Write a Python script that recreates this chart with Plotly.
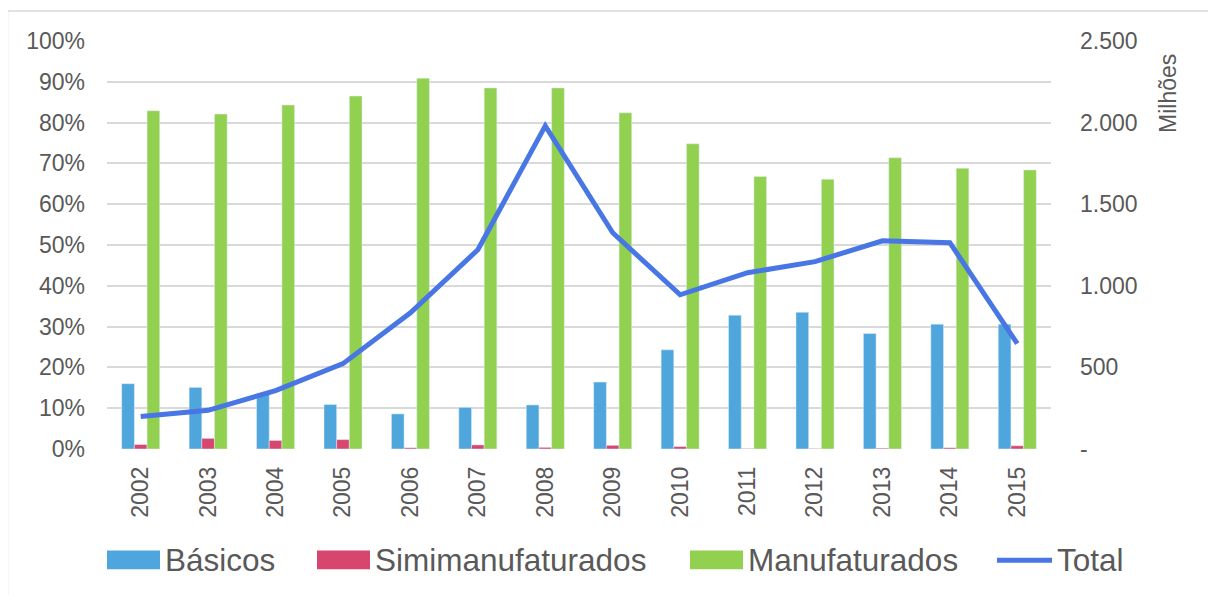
import plotly.graph_objects as go

years = ["2002", "2003", "2004", "2005", "2006", "2007", "2008",
         "2009", "2010", "2011", "2012", "2013", "2014", "2015"]
basicos = [16.0, 15.1, 13.5, 10.9, 8.6, 10.2, 10.8, 16.4, 24.3, 32.8, 33.5, 28.3, 30.6, 30.6]
simimanufaturados = [1.1, 2.6, 2.1, 2.3, 0.3, 1.0, 0.4, 0.9, 0.6, 0.1, 0.1, 0.2, 0.3, 0.8]
manufaturados = [82.9, 82.1, 84.3, 86.5, 90.9, 88.5, 88.5, 82.4, 74.8, 66.8, 66.1, 71.4, 68.8, 68.4]
total = [199, 237, 358, 523, 835, 1221, 1980, 1325, 945, 1080, 1148, 1276, 1264, 646]

right_ticks = [0, 500, 1000, 1500, 2000, 2500]
right_labels = ["-", "500", "1.000", "1.500", "2.000", "2.500"]

C_BAS = "#4EA6DC"
C_SIMI = "#D6466F"
C_MAN = "#92D050"
C_TOT = "#4876E4"
TXT = "#595959"
FONT = "Liberation Sans, Arial, sans-serif"

# the page puts the figure 8px in from the top-left corner
OFF = 8
W, H = 1216 - OFF, 595 - OFF
ML, MR, MT, MB = 107 - OFF, 165, 41 - OFF, 145.5
PW, PH = W - ML - MR, H - MT - MB


def px_x(x):
    return (x - OFF - ML) / PW


def px_y(y):
    return (H - MB - (y - OFF)) / PH


fig = go.Figure()
fig.add_bar(x=years, y=basicos, name="Básicos", marker_color=C_BAS)
fig.add_bar(x=years, y=simimanufaturados, name="Simimanufaturados", marker_color=C_SIMI)
fig.add_bar(x=years, y=manufaturados, name="Manufaturados", marker_color=C_MAN)
fig.add_scatter(x=years, y=total, name="Total", yaxis="y2", mode="lines",
                line=dict(color=C_TOT, width=5))

fig.update_layout(
    width=W, height=H,
    margin=dict(l=ML, r=MR, t=MT, b=MB, autoexpand=False),
    paper_bgcolor="white", plot_bgcolor="white",
    font=dict(family=FONT, color=TXT, size=23),
    barmode="group", bargap=0.436, bargroupgap=0,
    showlegend=False,
    xaxis=dict(tickangle=-90, tickfont=dict(size=23), showgrid=False,
               showline=False, ticks="", ticklabelstandoff=12),
    yaxis=dict(range=[0, 100], dtick=10, ticksuffix="%", showgrid=True,
               gridcolor="#D9D9D9", gridwidth=1.5, zeroline=False,
               tickfont=dict(size=23), ticklabelstandoff=21),
    yaxis2=dict(range=[0, 2500], overlaying="y", side="right",
                tickvals=right_ticks, ticktext=right_labels, showgrid=False,
                zeroline=False, tickfont=dict(size=23), ticklabelstandoff=28),
)

# title of the right axis, placed at the top like the original
fig.add_annotation(text="Milhões", xref="paper", yref="paper",
                   x=px_x(1168), y=px_y(94), textangle=-90, showarrow=False,
                   xanchor="center", yanchor="middle",
                   font=dict(size=23, color=TXT))

# custom legend
legend = [
    ("Básicos", C_BAS, 107, 160, 166, "bar"),
    ("Simimanufaturados", C_SIMI, 317, 370, 376, "bar"),
    ("Manufaturados", C_MAN, 690, 743, 749, "bar"),
    ("Total", C_TOT, 997, 1052, 1058, "line"),
]
for name, col, x0, x1, xt, kind in legend:
    if kind == "bar":
        fig.add_shape(type="rect", xref="paper", yref="paper",
                      x0=px_x(x0), x1=px_x(x1), y0=px_y(570), y1=px_y(551),
                      fillcolor=col, line_width=0)
    else:
        fig.add_shape(type="line", xref="paper", yref="paper",
                      x0=px_x(x0), x1=px_x(x1), y0=px_y(561), y1=px_y(561),
                      line=dict(color=col, width=5))
    fig.add_annotation(text=name, xref="paper", yref="paper", x=px_x(xt - 3),
                       y=px_y(561), xanchor="left", yanchor="middle",
                       showarrow=False, font=dict(size=31.5, color=TXT))

# chart border
fig.add_shape(type="rect", xref="paper", yref="paper",
              x0=px_x(7.5), x1=px_x(1225), y0=px_y(605), y1=px_y(11),
              line=dict(color="#D9D9D9", width=1.5), fillcolor="rgba(0,0,0,0)")

fig.write_html("out.html")
